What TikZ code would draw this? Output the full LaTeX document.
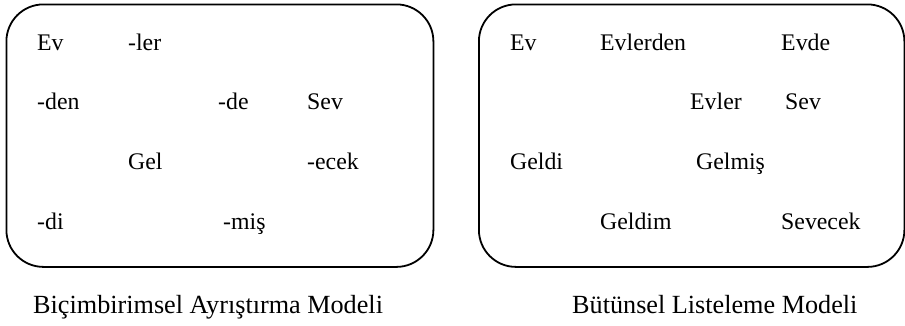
\documentclass[tikz,border=0pt]{standalone}
\usepackage{fontspec}
\setmainfont{Liberation Serif}
\begin{document}
\begin{tikzpicture}[x=1pt,y=-1pt,
  panel/.style={draw=black, line width=1.8pt, rounded corners=37pt, inner sep=0pt, anchor=north west},
  word/.style={anchor=base west, inner sep=0pt, font=\rmfamily\fontsize{23.8}{26}\selectfont},
  caption/.style={anchor=base west, inner sep=0pt, font=\rmfamily\fontsize{26.2}{29}\selectfont}]
\useasboundingbox (0,0) rectangle (905,325);

% two rounded panels
\node[panel, minimum width=427pt, minimum height=262.5pt] (leftpanel) at (5.5,3.5) {};
\node[panel, minimum width=425.5pt, minimum height=262.5pt] (rightpanel) at (478,3.5) {};

% morphemes
\node[word] (lev)   at (37,50)  {Ev};
\node[word] (ller)  at (128,50) {-ler};
\node[word] (lden)  at (37,109) {-den};
\node[word] (lde)   at (218,109) {-de};
\node[word] (lsev)  at (307,109) {Sev};
\node[word] (lgel)  at (128,169) {Gel};
\node[word] (lecek) at (307,169) {-ecek};
\node[word] (ldi)   at (37,229) {-di};
\node[word] (lmis)  at (223,229) {-miş};

% whole words
\node[word] (rev)       at (510,50)  {Ev};
\node[word] (revlerden) at (600,50)  {Evlerden};
\node[word] (revde)     at (781,50)  {Evde};
\node[word] (revler)    at (690,109) {Evler};
\node[word] (rsev)      at (785,109) {Sev};
\node[word] (rgeldi)    at (510,169) {Geldi};
\node[word] (rgelmis)   at (696,169) {Gelmiş};
\node[word] (rgeldim)   at (600,229) {Geldim};
\node[word] (rsevecek)  at (781,229) {Sevecek};

% captions
\node[caption] (leftcap)  at (33,313)  {Biçimbirimsel Ayrıştırma Modeli};
\node[caption] (rightcap) at (572,313) {Bütünsel Listeleme Modeli};
\end{tikzpicture}
\end{document}
